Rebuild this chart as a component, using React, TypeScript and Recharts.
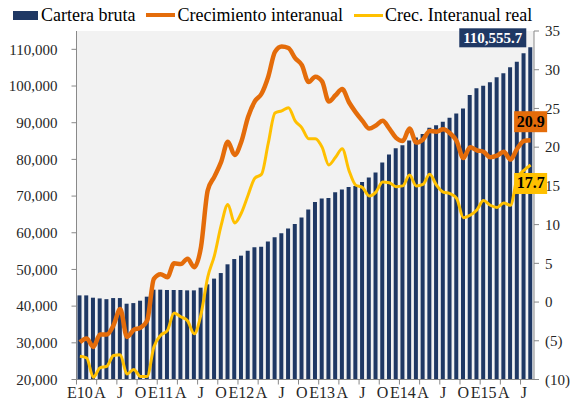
import { ComposedChart, Bar, Line, XAxis, YAxis, CartesianGrid, LabelList } from "recharts";

const years = ["10", "11", "12", "13", "14", "15"];
const monthLetters = ["E", "F", "M", "A", "M", "J", "J", "A", "S", "O", "N", "D"];
const months = years
  .flatMap((y) => monthLetters.map((m, i) => (i === 0 ? `E${y}` : m)))
  .slice(0, 68);

// Cartera bruta (left axis)
const carteraBruta = [
  42930, 42930, 42300, 42100, 41900, 42200, 42200, 40660, 40830, 41480, 42580, 44490,
  44490, 44400, 44400, 44400, 44300, 44300, 45030, 45940, 47500, 49020, 51400, 52840,
  53760, 55130, 56040, 56220, 57590, 58770, 59860, 61140, 62400, 64150, 66330, 68410,
  69330, 69500, 71050, 71780, 72500, 72770, 73860, 75060, 76430, 79160, 81340, 83060,
  83880, 85160, 85980, 86890, 88610, 89340, 90250, 91340, 92530, 93900, 97530, 99360,
  100070, 101000, 102360, 103450, 105090, 106620, 108910, 110555.7,
];

// Crecimiento interanual (%)
const crecimiento = [
  -5.2, -4.7, -5.8, -4.2, -4.2, -3.0, -0.9, -4.5, -3.6, -3.3, -2.4, 3.0,
  3.6, 3.2, 5.0, 4.9, 5.6, 4.5, 7.1, 14.4, 16.2, 18.1, 20.7, 19.0,
  20.7, 23.9, 25.9, 26.9, 29.1, 32.3, 33.0, 32.8, 31.5, 30.6, 28.4, 29.1,
  28.5, 25.9, 26.7, 27.5, 25.8, 24.5, 23.4, 22.4, 22.8, 23.4, 22.4, 21.2,
  20.8, 22.4, 20.6, 21.0, 22.1, 22.0, 22.3, 21.8, 20.8, 18.6, 20.0, 19.6,
  19.4, 18.7, 18.9, 19.4, 18.4, 19.8, 20.8, 20.9,
];

// Crec. Interanual real (%)
const crecReal = [
  -7.0, -7.2, -9.7, -8.5, -8.3, -6.9, -6.8, -9.3, -8.7, -9.6, -9.6, -5.8,
  -4.3, -3.7, -1.4, -1.9, -2.4, -4.1, -1.6, 3.2, 6.0, 9.9, 12.6, 10.2,
  11.5, 13.8, 16.0, 16.5, 20.5, 24.4, 24.7, 25.1, 23.4, 22.5, 21.1, 21.1,
  20.0, 17.7, 18.7, 19.8, 17.0, 15.1, 14.8, 13.7, 14.2, 15.5, 15.4, 14.9,
  15.0, 16.4, 15.0, 15.2, 16.5, 15.1, 14.2, 14.0, 13.4, 10.9, 11.2, 11.9,
  13.1, 12.5, 12.2, 12.8, 12.5, 16.0, 17.0, 17.7,
];

const leftTicks = [20000, 30000, 40000, 50000, 60000, 70000, 80000, 90000, 100000, 110000];
const rightTicks = [-10, -5, 0, 5, 10, 15, 20, 25, 30, 35];

const data = months.map((m, i) => ({
  month: m,
  cartera: carteraBruta[i],
  crec: crecimiento[i],
  real: crecReal[i],
}));

const NAVY = "#1F3864";
const ORANGE = "#E46C0A";
const YELLOW = "#FFC000";
const AXIS = "#898989";
const FONT = "Liberation Serif, Times New Roman, serif";
const LAST = data.length - 1;

const W = 573;
const H = 404;
const LEFT_W = 76.5;
const RIGHT_W = 39;
const BAND = (W - LEFT_W - RIGHT_W) / data.length;

function XTick(props: any) {
  const { x, y, payload } = props;
  return (
    <g>
      <line x1={x - BAND / 2} x2={x - BAND / 2} y1={y} y2={y + 5} stroke={AXIS} />
      <text x={x} y={y + 18} textAnchor="middle" fontSize={16} style={{ fontFamily: FONT }} fill="#262626">
        {payload.value}
      </text>
    </g>
  );
}

function BarValueLabel(props: any) {
  const { x, y, width, value, index } = props;
  if (index !== LAST) return null;
  const cx = x + width / 2;
  return (
    <g>
      <rect x={cx - 71} y={y - 19} width={67} height={19} fill={NAVY} />
      <text
        x={cx - 37.5}
        y={y - 4.5}
        textAnchor="middle"
        fontSize={15}
        fontWeight="bold"
        style={{ fontFamily: FONT }}
        fill="#fff"
      >
        {Number(value).toLocaleString("en-US", { minimumFractionDigits: 1 })}
      </text>
    </g>
  );
}

function boxLabel(fill: string, dyBox: number) {
  return (props: any) => {
    const { x, y, value, index } = props;
    if (index !== LAST) return null;
    return (
      <g>
        <rect x={x - 16.5} y={y + dyBox} width={33} height={21} fill={fill} />
        <text
          x={x}
          y={y + dyBox + 15.5}
          textAnchor="middle"
          fontSize={16}
          fontWeight="bold"
          style={{ fontFamily: FONT }}
          fill="#000"
        >
          {Number(value).toFixed(1)}
        </text>
      </g>
    );
  };
}

function Legend() {
  const item = { display: "flex", alignItems: "center" } as const;
  return (
    <div
      style={{
        position: "absolute",
        left: 13,
        top: 5,
        display: "flex",
        alignItems: "center",
        fontFamily: FONT,
        fontSize: 18,
        lineHeight: "20px",
        color: "#000",
        whiteSpace: "nowrap",
      }}
    >
      <div style={item}>
        <span style={{ width: 25, height: 9, background: NAVY, marginRight: 3 }} />
        <span style={{ marginRight: 11 }}>Cartera bruta</span>
      </div>
      <div style={item}>
        <span style={{ width: 29, height: 4, background: ORANGE, marginRight: 2 }} />
        <span style={{ marginRight: 11 }}>Crecimiento interanual</span>
      </div>
      <div style={item}>
        <span style={{ width: 29, height: 3, background: YELLOW, marginRight: 2 }} />
        <span>Crec. Interanual real</span>
      </div>
    </div>
  );
}

const tickStyle = { fontSize: 15, fill: "#262626", style: { fontFamily: FONT } };

export default function App() {
  return (
    <div
      style={{ position: "absolute", left: 0, top: 0, width: W, height: H, background: "#fff", fontFamily: FONT }}
    >
      <ComposedChart
        width={W}
        height={H}
        data={data}
        margin={{ top: 31, right: 0, bottom: 0, left: 0 }}
        style={{ fontFamily: FONT }}
      >
        <CartesianGrid horizontal={false} vertical={false} fill="#F2F2F2" />
        <XAxis
          dataKey="month"
          height={24.5}
          interval={2}
          tickLine={false}
          tickSize={0}
          tickMargin={0}
          axisLine={{ stroke: AXIS }}
          tick={<XTick />}
        />
        <YAxis
          yAxisId="left"
          width={LEFT_W}
          domain={[20000, 115000]}
          ticks={leftTicks}
          interval={0}
          tickSize={5}
          tickMargin={14}
          axisLine={{ stroke: AXIS }}
          tickLine={{ stroke: AXIS }}
          tick={tickStyle}
          tickFormatter={(v: number) => v.toLocaleString("en-US")}
        />
        <YAxis
          yAxisId="right"
          orientation="right"
          width={RIGHT_W}
          domain={[-10, 35]}
          ticks={rightTicks}
          interval={0}
          tickSize={5}
          tickMargin={6}
          axisLine={{ stroke: AXIS }}
          tickLine={{ stroke: AXIS }}
          tick={{ ...tickStyle, textAnchor: "start" }}
          tickFormatter={(v: number) => (v < 0 ? `(${Math.abs(v)})` : `${v}`)}
        />
        <Bar yAxisId="left" dataKey="cartera" fill={NAVY} barSize={4} isAnimationActive={false}>
          <LabelList dataKey="cartera" content={<BarValueLabel />} />
        </Bar>
        <Line
          yAxisId="right"
          type="monotone"
          dataKey="crec"
          stroke={ORANGE}
          strokeWidth={4.5}
          dot={false}
          strokeLinejoin="round"
          isAnimationActive={false}
        >
          <LabelList dataKey="crec" content={boxLabel(ORANGE, -29)} />
        </Line>
        <Line
          yAxisId="right"
          type="monotone"
          dataKey="real"
          stroke={YELLOW}
          strokeWidth={3}
          dot={false}
          strokeLinejoin="round"
          isAnimationActive={false}
        >
          <LabelList dataKey="real" content={boxLabel(YELLOW, 8)} />
        </Line>
      </ComposedChart>
      <Legend />
    </div>
  );
}
